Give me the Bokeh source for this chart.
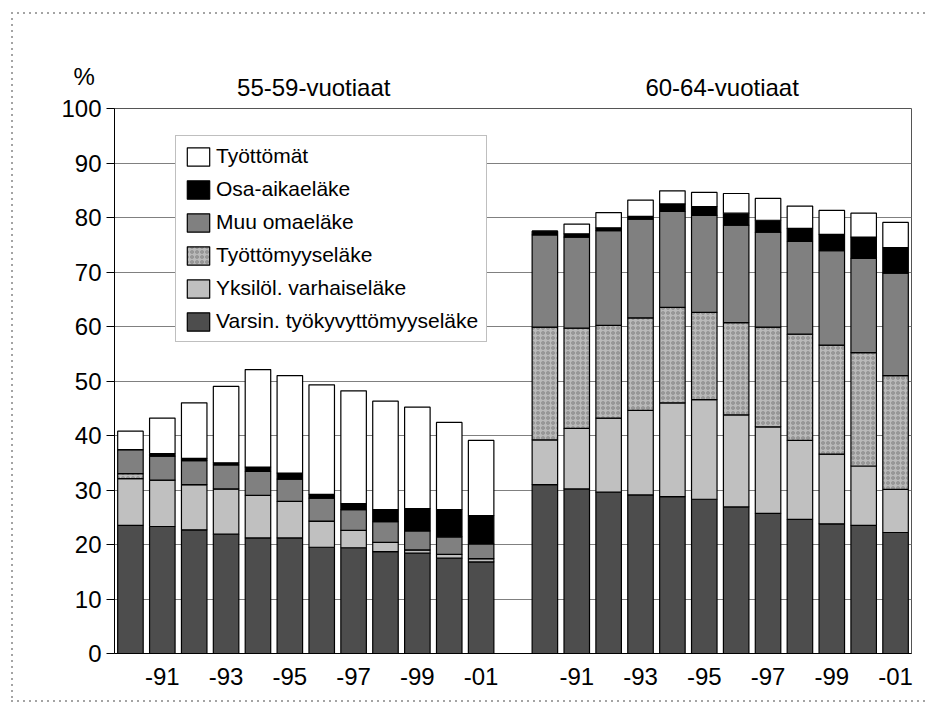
from bokeh.plotting import figure
from bokeh.models import (ColumnDataSource, Range1d, FixedTicker, Legend, LegendItem,
                          Title, LinearAxis)
from bokeh.transform import stack
from bokeh.embed import file_html
from bokeh.resources import INLINE

# ---- data ----
years = list(range(1990, 2002))
group_titles = ["55-59-vuotiaat", "60-64-vuotiaat"]
unit_label = "%"
tick_years = [1991, 1993, 1995, 1997, 1999, 2001]
tick_labels = ["-91", "-93", "-95", "-97", "-99", "-01"]

series_names = ["Varsin. työkyvyttömyyseläke", "Yksilöl. varhaiseläke", "Työttömyyseläke",
                "Muu omaeläke", "Osa-aikaeläke", "Työttömät"]

varsin_55 = [23.5, 23.3, 22.7, 21.9, 21.2, 21.2, 19.5, 19.4, 18.7, 18.4, 17.5, 16.8]
yksilol_55 = [8.6, 8.5, 8.3, 8.3, 7.8, 6.7, 4.8, 3.2, 1.7, 0.6, 0.7, 0.6]
tyottomyyselake_55 = [0.9, 0.0, 0.0, 0.0, 0.0, 0.0, 0.0, 0.0, 0.0, 0.0, 0.0, 0.0]
muu_55 = [4.4, 4.4, 4.4, 4.4, 4.4, 4.1, 4.2, 3.8, 3.8, 3.5, 3.2, 2.7]
osa_55 = [0.0, 0.5, 0.4, 0.4, 0.8, 1.1, 0.7, 1.1, 2.2, 4.1, 5.0, 5.2]
tyottomat_55 = [3.4, 6.5, 10.2, 14.0, 17.9, 17.9, 20.1, 20.7, 19.9, 18.6, 16.0, 13.8]

varsin_60 = [31.0, 30.2, 29.6, 29.1, 28.8, 28.3, 26.9, 25.7, 24.6, 23.8, 23.5, 22.2]
yksilol_60 = [8.2, 11.1, 13.6, 15.5, 17.2, 18.3, 16.9, 15.9, 14.5, 12.8, 10.9, 7.9]
tyottomyyselake_60 = [20.7, 18.4, 17.0, 17.0, 17.5, 16.0, 16.9, 18.3, 19.5, 20.0, 20.8, 20.9]
muu_60 = [16.9, 16.7, 17.4, 18.1, 17.6, 17.8, 17.9, 17.4, 17.0, 17.3, 17.3, 18.8]
osa_60 = [0.7, 0.6, 0.5, 0.5, 1.4, 1.6, 2.2, 2.2, 2.4, 3.0, 3.9, 4.7]
tyottomat_60 = [0.0, 1.8, 2.8, 3.0, 2.4, 2.6, 3.6, 4.0, 4.1, 4.4, 4.4, 4.6]

# ---- positions from categories (one empty slot between groups) ----
n = len(years)
gap = 1
offsets = [0, n + gap]
xs = [years.index(y) + offsets[0] for y in years] + [years.index(y) + offsets[1] for y in years]

keys = ["varsin", "yksilol", "tyottomyys", "muu", "osa", "tyottomat"]
src = ColumnDataSource(dict(
    x=xs,
    varsin=varsin_55 + varsin_60,
    yksilol=yksilol_55 + yksilol_60,
    tyottomyys=tyottomyyselake_55 + tyottomyyselake_60,
    muu=muu_55 + muu_60,
    osa=osa_55 + osa_60,
    tyottomat=tyottomat_55 + tyottomat_60,
))

FONT = "Liberation Sans"
W, H = 926, 704
p = figure(width=W, height=H, output_backend="svg", toolbar_location=None,
           title_location=None,
           x_range=Range1d(-0.5, 2 * n + gap - 0.5), y_range=Range1d(0, 100),
           min_border_left=114, min_border_right=15, min_border_top=108, min_border_bottom=51)
p.background_fill_color = "white"
p.border_fill_color = None
p.outline_line_color = "#555555"
p.outline_line_width = 1

dots = "repeating-linear-gradient(to right, #a4a4a4 0px, #a4a4a4 2px, rgba(255,255,255,0) 2px, rgba(255,255,255,0) 6px)"
dots_v = "repeating-linear-gradient(to bottom, #a4a4a4 0px, #a4a4a4 2px, rgba(255,255,255,0) 2px, rgba(255,255,255,0) 6px)"
p.styles = {
    "background-color": "white",
    "background-image": f"{dots}, {dots_v}, {dots}",
    "background-size": "1000px 2px, 2px 690px, 1000px 2px",
    "background-position": "11px 12px, 11px 12px, 11px 700px",
    "background-repeat": "no-repeat, no-repeat, no-repeat",
}

# axes
p.yaxis.ticker = FixedTicker(ticks=list(range(0, 101, 10)))
p.yaxis.major_tick_out = 8
p.yaxis.major_tick_in = 0
p.yaxis.minor_tick_line_color = None
p.yaxis.major_label_text_font = FONT
p.yaxis.major_label_text_font_size = "24px"
p.yaxis.major_label_text_color = "black"
p.yaxis.major_label_standoff = 5
p.yaxis.axis_line_color = "black"
p.yaxis.major_tick_line_color = "black"

xt = [years.index(y) + o for o in offsets for y in tick_years]
p.xaxis.ticker = FixedTicker(ticks=xt)
p.xaxis.major_label_overrides = {t: lab for t, lab in zip(xt, tick_labels * 2)}
p.xaxis.major_tick_line_color = None
p.xaxis.minor_tick_line_color = None
p.xaxis.major_label_text_font = FONT
p.xaxis.major_label_text_font_size = "24px"
p.xaxis.major_label_text_color = "black"
p.xaxis.major_label_standoff = 8
p.xaxis.axis_line_color = "black"

# group titles as a label-only axis above the frame
title_pos = [offsets[0] + (n - 1) / 2 + 0.25, offsets[1] + (n - 1) / 2 + 0.06]
top_axis = LinearAxis(ticker=FixedTicker(ticks=title_pos),
                      major_label_overrides={t: s for t, s in zip(title_pos, group_titles)},
                      axis_line_color=None, major_tick_line_color=None,
                      minor_tick_line_color=None, major_label_standoff=2,
                      major_label_text_font=FONT, major_label_text_font_size="24px",
                      major_label_text_color="black")
p.add_layout(top_axis, "above")

# unit label, placed in the top-left corner above the value axis
p.add_layout(Title(text=unit_label, align="left", offset=-41, standoff=-38,
                   text_font=FONT, text_font_size="24px", text_font_style="normal",
                   text_color="black"), "above")

p.xgrid.grid_line_color = None
p.ygrid.grid_line_color = "#808080"
p.ygrid.grid_line_width = 1

colors = ["#4d4d4d", "#c0c0c0", "#bababa", "#808080", "#000000", "#ffffff"]
renderers = []
for i, k in enumerate(keys):
    kw = dict(x="x", width=0.8, source=src, fill_color=colors[i],
              line_color="black", line_width=1.2,
              bottom=stack(*keys[:i]) if i > 0 else 0, top=stack(*keys[:i + 1]))
    if k == "tyottomyys":
        kw.update(hatch_pattern="ring", hatch_color="#7c7c7c", hatch_scale=5,
                  hatch_weight=1.1, hatch_alpha=0.9)
    renderers.append(p.vbar(**kw))

items = [LegendItem(label=series_names[i], renderers=[renderers[i]]) for i in reversed(range(6))]
legend = Legend(items=items, location=(61, 311), padding=8, spacing=9,
                glyph_width=28, glyph_height=23, label_height=23, label_standoff=4,
                label_text_font=FONT, label_text_font_size="21px", label_text_color="black",
                border_line_color="#808080", border_line_width=1,
                background_fill_color="white", background_fill_alpha=1.0, margin=0)
p.add_layout(legend)

open("out.html", "w").write(file_html(p, INLINE))
